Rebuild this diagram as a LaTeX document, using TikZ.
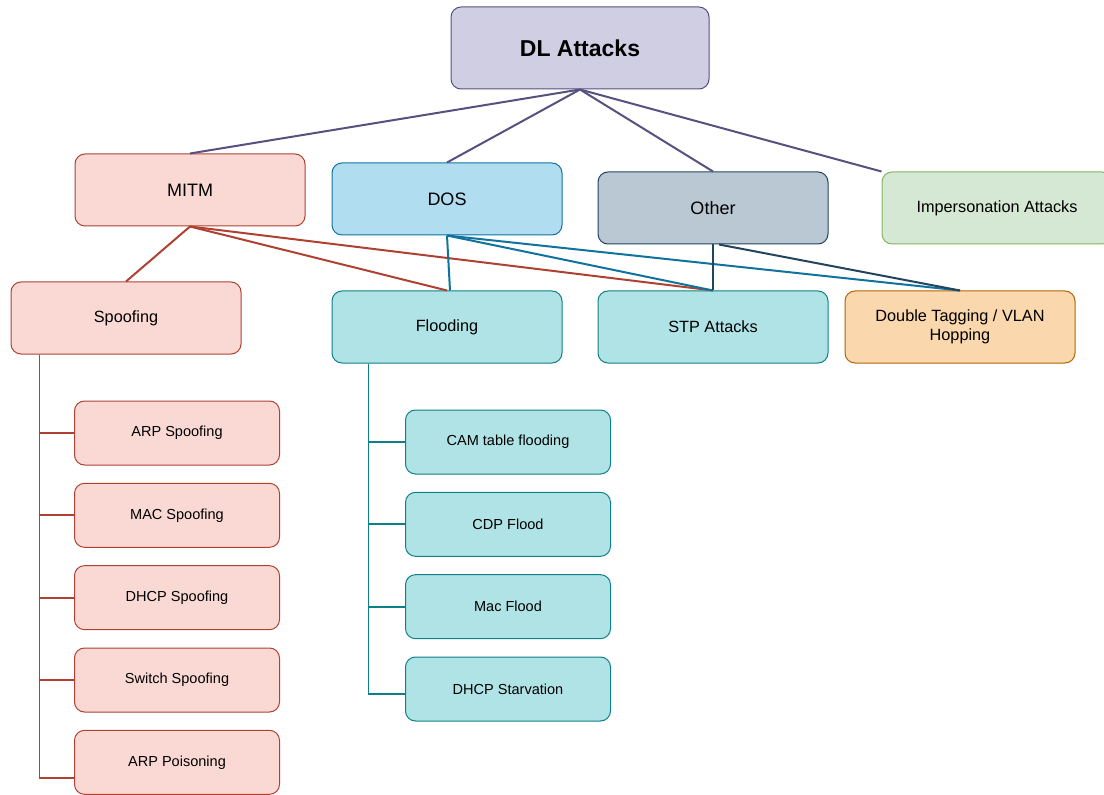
\documentclass[tikz,border=0pt]{standalone}
\usepackage{fontspec}
\setmainfont{Liberation Sans}
\usetikzlibrary{positioning}
\definecolor{rootfill}{HTML}{D0CEE2}
\definecolor{rootline}{HTML}{56517E}
\definecolor{redfill}{HTML}{FAD9D5}
\definecolor{redline}{HTML}{AE4132}
\definecolor{bluefill}{HTML}{B1DDF0}
\definecolor{blueline}{HTML}{10739E}
\definecolor{grayfill}{HTML}{BAC8D3}
\definecolor{grayline}{HTML}{23445D}
\definecolor{greenfill}{HTML}{D5E8D4}
\definecolor{greenline}{HTML}{82B366}
\definecolor{tealfill}{HTML}{B0E3E6}
\definecolor{tealline}{HTML}{0E8088}
\definecolor{orangefill}{HTML}{FAD7AC}
\definecolor{orangeline}{HTML}{B46504}
\tikzset{
  x=0.75pt, y=-0.75pt,
  node distance=61.75pt,
  box/.style={draw, rounded corners=7.5pt, line width=0.75pt, align=center,
    minimum width=172.5pt, minimum height=54pt},
  root/.style={box, fill=rootfill, draw=rootline, minimum width=193.5pt,
    minimum height=61.5pt, font=\fontsize{17.25}{20}\selectfont\bfseries},
  cat/.style={box, font=\fontsize{13.5}{16}\selectfont},
  sub/.style={box, font=\fontsize{12.2}{14.5}\selectfont},
  leaf/.style={box, minimum width=153.75pt, minimum height=48pt,
    font=\fontsize{10.9}{13}\selectfont},
  red/.style={fill=redfill, draw=redline},
  blue/.style={fill=bluefill, draw=blueline},
  gray/.style={fill=grayfill, draw=grayline},
  green/.style={fill=greenfill, draw=greenline},
  teal/.style={fill=tealfill, draw=tealline},
  orange/.style={fill=orangefill, draw=orangeline},
  link/.style={line width=1.5pt},
  branch/.style={line width=1.3pt},
}

\begin{document}
\begin{tikzpicture}
  \useasboundingbox (0,0) rectangle (1104,795);

  % Root
  \node[root] (dl) at (580,48) {DL Attacks};

  % Categories
  \node[cat, red] (mitm) at (190,190) {MITM};
  \node[cat, blue] (dos) at (447,199) {DOS};
  \node[cat, gray] (other) at (713,208) {Other};
  \node[sub, green] (imp) at (997,208) {Impersonation Attacks};

  % Second row
  \node[sub, red] (spoof) at (126,318) {Spoofing};
  \node[sub, teal] (flood) at (447,327) {Flooding};
  \node[sub, teal] (stp) at (713,327) {STP Attacks};
  \node[sub, orange] (dtag) at (960,327) {Double Tagging / VLAN\\Hopping};

  % Spoofing attacks
  \node[leaf, red] (arps) at (177,433) {ARP Spoofing};
  \node[leaf, red, below of=arps] (macs) {MAC Spoofing};
  \node[leaf, red, below of=macs] (dhcps) {DHCP Spoofing};
  \node[leaf, red, below of=dhcps] (sws) {Switch Spoofing};
  \node[leaf, red, below of=sws] (arpp) {ARP Poisoning};

  % Flooding attacks
  \node[leaf, teal] (cam) at (508,442) {CAM table flooding};
  \node[leaf, teal, below of=cam] (cdp) {CDP Flood};
  \node[leaf, teal, below of=cdp] (macf) {Mac Flood};
  \node[leaf, teal, below of=macf] (dhst) {DHCP Starvation};

  % Links
  \path[link, draw=rootline]
    (dl.south) edge (mitm.north)
    (dl.south) edge (dos.north)
    (dl.south) edge (other.north)
    (dl.south) edge (imp.north west);
  \path[link, draw=redline]
    (mitm.south) edge (spoof.north)
    (mitm.south) edge (flood.north)
    (mitm.south) edge (stp.north);
  \path[link, draw=blueline]
    (dos.south) edge ([xshift=2.25pt]flood.north)
    (dos.south) edge (stp.north)
    (dos.south) edge (dtag.north);
  \path[link, draw=grayline]
    (other.south) edge (stp.north)
    ([xshift=4.5pt]other.south) edge (dtag.north);

  % Branches
  \foreach \n in {arps,macs,dhcps,sws}
    \draw[branch, redline] ([xshift=21.75pt]spoof.south west) |- (\n.west);
  \draw[branch, redline] ([xshift=21.75pt]spoof.south west) |- ([yshift=-12pt]arpp.west);
  \foreach \n in {cam,cdp,macf}
    \draw[branch, tealline] ([xshift=27.75pt]flood.south west) |- (\n.west);
  \draw[branch, tealline] ([xshift=27.75pt]flood.south west) |- ([yshift=-3.75pt]dhst.west);
\end{tikzpicture}
\end{document}
